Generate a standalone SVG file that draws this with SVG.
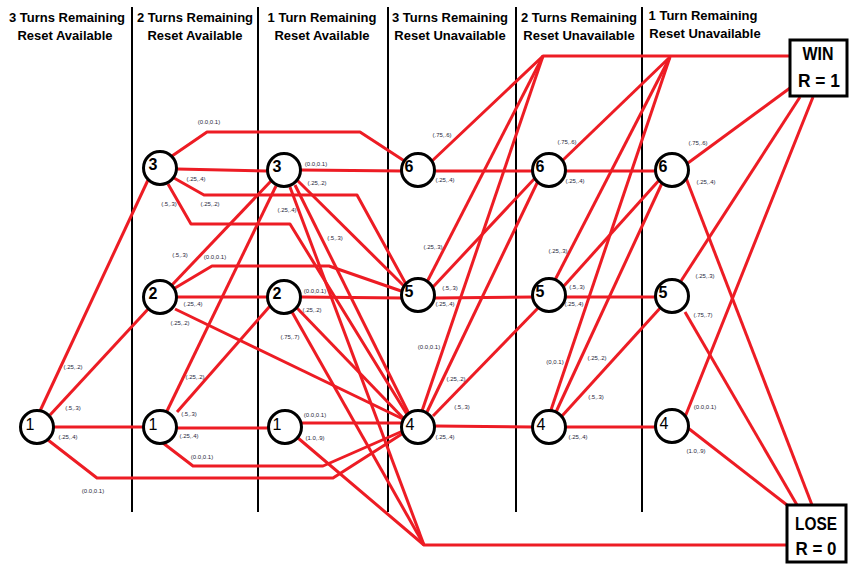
<svg xmlns="http://www.w3.org/2000/svg" width="851" height="566" viewBox="0 0 851 566">
<style>
.hdr{font-family:"Liberation Sans",Arial,sans-serif;font-weight:bold;font-size:13px;fill:#000;text-anchor:middle}
.div{stroke:#000;stroke-width:2;fill:none}
.e{stroke:#ed1c24;stroke-width:3;fill:none;stroke-linejoin:round}
.n circle{fill:#fff;stroke:#000;stroke-width:3}
.n text{font-family:"Liberation Sans",Arial,sans-serif;font-size:16px;fill:#000;text-anchor:middle}
.b text{font-weight:bold}
.lbl{font-family:"Liberation Sans",Arial,sans-serif;font-size:6px;fill:#1f1f3a;text-anchor:middle}
.box rect{fill:#fff;stroke:#000;stroke-width:3}
.box text{font-family:"Liberation Sans",Arial,sans-serif;font-weight:bold;font-size:18px;fill:#000;text-anchor:middle}
</style>
<rect width="851" height="566" fill="#fff"/>
<g id="headers">
<text class="hdr" x="67" y="22">3 Turns Remaining</text><text class="hdr" x="65" y="40">Reset Available</text>
<text class="hdr" x="195" y="22">2 Turns Remaining</text><text class="hdr" x="195" y="40">Reset Available</text>
<text class="hdr" x="322" y="22">1 Turn Remaining</text><text class="hdr" x="322" y="40">Reset Available</text>
<text class="hdr" x="450" y="22">3 Turns Remaining</text><text class="hdr" x="450" y="40">Reset Unavailable</text>
<text class="hdr" x="579" y="22">2 Turns Remaining</text><text class="hdr" x="579" y="40">Reset Unavailable</text>
<text class="hdr" x="703" y="20">1 Turn Remaining</text><text class="hdr" x="705" y="38">Reset Unavailable</text>
</g>
<g id="dividers">
<path class="div" d="M132,7V512M258,7V512M388,7V512M516,7V512M642,7V512"/>
</g>
<g id="connectors">
<path class="e" d="M40,411L148,180"/>
<path class="e" d="M50,415L150,307"/>
<path class="e" d="M54,427L143,427"/>
<path class="e" d="M48,440L97,478L333,478L405,432"/>
<path class="e" d="M172,156L207,132L360,132L406,162"/>
<path class="e" d="M177,169L267,171"/>
<path class="e" d="M174,178L204,195L357,195L407,286"/>
<path class="e" d="M168,184L191,224L290,224L408,416"/>
<path class="e" d="M172,285L271,181"/>
<path class="e" d="M175,288L212,266L329,266L404,292"/>
<path class="e" d="M177,297L267,297"/>
<path class="e" d="M175,309L405,420"/>
<path class="e" d="M167,411L276,186"/>
<path class="e" d="M177,412L270,306"/>
<path class="e" d="M177,428L268,428"/>
<path class="e" d="M163,443L193,466L323,466L405,430"/>
<path class="e" d="M301,170L403,171"/>
<path class="e" d="M297,180L407,289"/>
<path class="e" d="M295,185L410,416"/>
<path class="e" d="M290,187L424,545"/>
<path class="e" d="M301,297L403,298"/>
<path class="e" d="M297,308L406,421"/>
<path class="e" d="M292,312L424,545"/>
<path class="e" d="M301,423L403,423"/>
<path class="e" d="M298,438L424,545L787,545"/>
<path class="e" d="M432,161L543,56L790,56"/>
<path class="e" d="M435,171L534,171"/>
<path class="e" d="M427,282L543,56"/>
<path class="e" d="M433,287L536,177"/>
<path class="e" d="M435,298L534,297"/>
<path class="e" d="M422,411L543,56"/>
<path class="e" d="M427,412L538,181"/>
<path class="e" d="M433,416L540,306"/>
<path class="e" d="M435,426L534,427"/>
<path class="e" d="M563,160L670,57"/>
<path class="e" d="M566,171L657,171"/>
<path class="e" d="M555,280L670,57"/>
<path class="e" d="M563,287L662,177"/>
<path class="e" d="M566,297L657,297"/>
<path class="e" d="M551,410L670,57"/>
<path class="e" d="M556,412L663,181"/>
<path class="e" d="M562,416L662,306"/>
<path class="e" d="M566,427L657,427"/>
<path class="e" d="M688,163L790,88"/>
<path class="e" d="M686,178L812,505"/>
<path class="e" d="M681,281L800,97"/>
<path class="e" d="M685,312L797,505"/>
<path class="e" d="M685,417L813,97"/>
<path class="e" d="M688,428L787,505"/>
</g>
<g id="edge-labels">
<text class="lbl" x="73" y="369">(.25,.2)</text>
<text class="lbl" x="73" y="410">(.5,.3)</text>
<text class="lbl" x="68" y="439">(.25,.4)</text>
<text class="lbl" x="93" y="493">(0.0,0.1)</text>
<text class="lbl" x="209" y="124">(0.0,0.1)</text>
<text class="lbl" x="196" y="181">(.25,.4)</text>
<text class="lbl" x="169" y="206">(.5,.3)</text>
<text class="lbl" x="210" y="206">(.25,.2)</text>
<text class="lbl" x="180" y="257">(.5,.3)</text>
<text class="lbl" x="215" y="259">(0.0,0.1)</text>
<text class="lbl" x="193" y="306">(.25,.4)</text>
<text class="lbl" x="180" y="325">(.25,.2)</text>
<text class="lbl" x="195" y="379">(.25,.2)</text>
<text class="lbl" x="189" y="416">(.5,.3)</text>
<text class="lbl" x="189" y="438">(.25,.4)</text>
<text class="lbl" x="202" y="459">(0.0,0.1)</text>
<text class="lbl" x="316" y="166">(0.0,0.1)</text>
<text class="lbl" x="317" y="185">(.25,.2)</text>
<text class="lbl" x="287" y="212">(.25,.4)</text>
<text class="lbl" x="335" y="240">(.5,.3)</text>
<text class="lbl" x="315" y="293">(0.0,0.1)</text>
<text class="lbl" x="312" y="312">(.25,.2)</text>
<text class="lbl" x="290" y="339">(.75,.7)</text>
<text class="lbl" x="315" y="417">(0.0,0.1)</text>
<text class="lbl" x="315" y="440">(1.0,.9)</text>
<text class="lbl" x="442" y="137">(.75,.6)</text>
<text class="lbl" x="445" y="182">(.25,.4)</text>
<text class="lbl" x="433" y="249">(.25,.3)</text>
<text class="lbl" x="450" y="290">(.5,.3)</text>
<text class="lbl" x="445" y="306">(.25,.4)</text>
<text class="lbl" x="429" y="349">(0.0,0.1)</text>
<text class="lbl" x="456" y="381">(.25,.2)</text>
<text class="lbl" x="462" y="409">(.5,.3)</text>
<text class="lbl" x="445" y="439">(.25,.4)</text>
<text class="lbl" x="567" y="144">(.75,.6)</text>
<text class="lbl" x="575" y="183">(.25,.4)</text>
<text class="lbl" x="558" y="253">(.25,.3)</text>
<text class="lbl" x="577" y="289">(.5,.3)</text>
<text class="lbl" x="574" y="306">(.25,.4)</text>
<text class="lbl" x="555" y="364">(0,0.1)</text>
<text class="lbl" x="597" y="360">(.25,.2)</text>
<text class="lbl" x="596" y="399">(.5,.3)</text>
<text class="lbl" x="578" y="439">(.25,.4)</text>
<text class="lbl" x="698" y="145">(.75,.6)</text>
<text class="lbl" x="706" y="184">(.25,.4)</text>
<text class="lbl" x="705" y="278">(.25,.3)</text>
<text class="lbl" x="703" y="317">(.75,.7)</text>
<text class="lbl" x="705" y="409">(0.0,0.1)</text>
<text class="lbl" x="696" y="453">(1.0,.9)</text>
</g>
<g id="n-c1-1" class="n"><circle cx="37" cy="427" r="16.5"/><text x="30" y="430">1</text></g>
<g id="n-c2-3" class="n b"><circle cx="160" cy="168" r="16.5"/><text x="153" y="170">3</text></g>
<g id="n-c2-2" class="n b"><circle cx="160" cy="297" r="16.5"/><text x="153" y="299">2</text></g>
<g id="n-c2-1" class="n"><circle cx="160" cy="427" r="16.5"/><text x="153" y="430">1</text></g>
<g id="n-c3-3" class="n b"><circle cx="284" cy="170" r="16.5"/><text x="277" y="172">3</text></g>
<g id="n-c3-2" class="n b"><circle cx="284" cy="297" r="16.5"/><text x="277" y="299">2</text></g>
<g id="n-c3-1" class="n"><circle cx="285" cy="427" r="16.5"/><text x="277" y="430">1</text></g>
<g id="n-c4-6" class="n b"><circle cx="418" cy="170" r="16.5"/><text x="409" y="172">6</text></g>
<g id="n-c4-5" class="n b"><circle cx="418" cy="295" r="16.5"/><text x="409" y="297">5</text></g>
<g id="n-c4-4" class="n"><circle cx="418" cy="427" r="16.5"/><text x="410" y="430">4</text></g>
<g id="n-c5-6" class="n b"><circle cx="549" cy="170" r="16.5"/><text x="540" y="172">6</text></g>
<g id="n-c5-5" class="n b"><circle cx="549" cy="295" r="16.5"/><text x="540" y="297">5</text></g>
<g id="n-c5-4" class="n"><circle cx="549" cy="427" r="16.5"/><text x="541" y="430">4</text></g>
<g id="n-c6-6" class="n b"><circle cx="672" cy="170" r="16.5"/><text x="663" y="172">6</text></g>
<g id="n-c6-5" class="n b"><circle cx="672" cy="296" r="16.5"/><text x="663" y="298">5</text></g>
<g id="n-c6-4" class="n"><circle cx="672" cy="426" r="16.5"/><text x="664" y="429">4</text></g>
<g id="win" class="box"><rect x="790" y="40" width="57" height="56"/><text x="818" y="60" textLength="31" lengthAdjust="spacingAndGlyphs">WIN</text><text x="819" y="87" textLength="42" lengthAdjust="spacingAndGlyphs">R = 1</text></g>
<g id="lose" class="box"><rect x="787" y="505" width="59" height="57"/><text x="816" y="530" textLength="42" lengthAdjust="spacingAndGlyphs">LOSE</text><text x="816" y="555" textLength="41" lengthAdjust="spacingAndGlyphs">R = 0</text></g>
</svg>
